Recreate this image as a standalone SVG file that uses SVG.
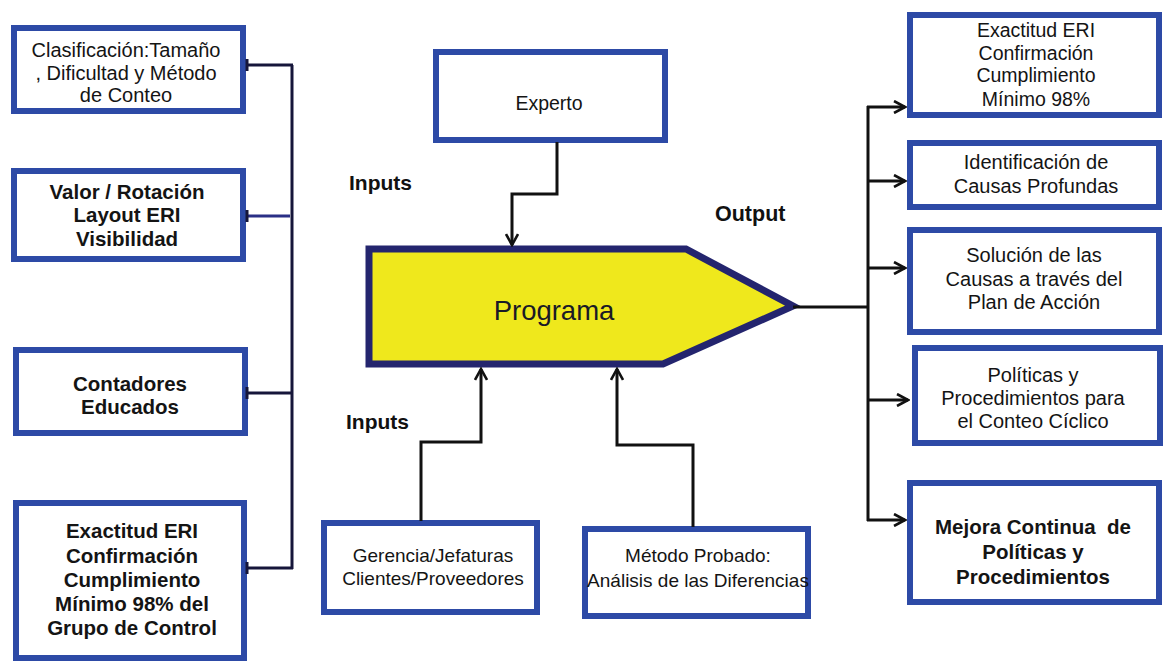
<svg xmlns="http://www.w3.org/2000/svg" width="1163" height="664" viewBox="0 0 1163 664">
  <style>
    .box { fill: #ffffff; stroke: #2d4aa6; stroke-width: 6; }
    .txt { font-family: "Liberation Sans", Arial, sans-serif; font-size: 19.5px; fill: #141414; text-anchor: middle; }
    .bold { font-weight: bold; }
    .lbl { font-family: "Liberation Sans", Arial, sans-serif; font-size: 21px; font-weight: bold; fill: #111; }
    .wire { fill: none; stroke: #111; stroke-width: 3; }
    .brk { fill: none; stroke: #16163a; stroke-width: 3; }
  </style>
  <defs>
    <marker id="arr" viewBox="0 0 14 14" refX="12" refY="7" markerWidth="14" markerHeight="14" markerUnits="userSpaceOnUse" orient="auto">
      <path d="M1,1 L12,7 L1,13" fill="none" stroke="#111" stroke-width="2.6"/>
    </marker>
  </defs>
  <rect width="1163" height="664" fill="#ffffff"/>

  <!-- left column: factors -->
  <g id="clasificacion">
    <rect class="box" x="14" y="28" width="229" height="83"/>
    <text class="txt" style="font-size:20px"><tspan x="126" y="57">Clasificación:Tamaño</tspan><tspan x="126" y="80">, Dificultad y Método</tspan><tspan x="126" y="102">de Conteo</tspan></text>
  </g>
  <g id="valor">
    <rect class="box" x="14" y="171" width="229" height="88"/>
    <text class="txt bold" style="font-size:20.5px"><tspan x="127" y="199">Valor / Rotación</tspan><tspan x="127" y="222">Layout ERI</tspan><tspan x="127" y="246">Visibilidad</tspan></text>
  </g>
  <g id="contadores">
    <rect class="box" x="16" y="350" width="229" height="83"/>
    <text class="txt bold" style="font-size:20.5px"><tspan x="130" y="391">Contadores</tspan><tspan x="130" y="414">Educados</tspan></text>
  </g>
  <g id="exactitud-grupo">
    <rect class="box" x="16" y="503" width="228" height="155"/>
    <text class="txt bold" style="font-size:20.5px"><tspan x="132" y="538">Exactitud ERI</tspan><tspan x="132" y="563">Confirmación</tspan><tspan x="132" y="587">Cumplimiento</tspan><tspan x="132" y="611">Mínimo 98% del</tspan><tspan x="132" y="635">Grupo de Control</tspan></text>
  </g>

  <!-- centre: inputs and programme -->
  <g id="experto">
    <rect class="box" x="436" y="52" width="229" height="88"/>
    <text class="txt" x="549" y="110" style="font-size:19.5px">Experto</text>
  </g>
  <g id="programa">
    <polygon points="369,249 686,249 793,306 663,364 369,364" fill="#efe81c" stroke="#24256e" stroke-width="7" stroke-linejoin="miter"/>
    <text class="txt" x="554" y="320" style="font-size:27.5px;fill:#1a1a26">Programa</text>
  </g>
  <g id="gerencia">
    <rect class="box" x="324" y="523" width="213" height="89"/>
    <text class="txt" style="font-size:19px"><tspan x="433" y="562">Gerencia/Jefaturas</tspan><tspan x="433" y="585">Clientes/Proveedores</tspan></text>
  </g>
  <g id="metodo">
    <rect class="box" x="585" y="529" width="223" height="87"/>
    <text class="txt" style="font-size:19px"><tspan x="698" y="562">Método Probado:</tspan><tspan x="698" y="587">Análisis de las Diferencias</tspan></text>
  </g>

  <!-- right column: outputs -->
  <g id="exactitud-eri">
    <rect class="box" x="910" y="15" width="249" height="100"/>
    <text class="txt"><tspan x="1036" y="37">Exactitud ERI</tspan><tspan x="1036" y="60">Confirmación</tspan><tspan x="1036" y="82">Cumplimiento</tspan><tspan x="1036" y="106">Mínimo 98%</tspan></text>
  </g>
  <g id="identificacion">
    <rect class="box" x="910" y="143" width="249" height="64"/>
    <text class="txt" style="font-size:20px"><tspan x="1036" y="169">Identificación de</tspan><tspan x="1036" y="193">Causas Profundas</tspan></text>
  </g>
  <g id="solucion">
    <rect class="box" x="910" y="230" width="249" height="102"/>
    <text class="txt" style="font-size:20px"><tspan x="1034" y="262">Solución de las</tspan><tspan x="1034" y="286">Causas a través del</tspan><tspan x="1034" y="309">Plan de Acción</tspan></text>
  </g>
  <g id="politicas">
    <rect class="box" x="915" y="348" width="245" height="95"/>
    <text class="txt" style="font-size:20px"><tspan x="1033" y="382">Políticas y</tspan><tspan x="1033" y="405">Procedimientos para</tspan><tspan x="1033" y="428">el Conteo Cíclico</tspan></text>
  </g>
  <g id="mejora">
    <rect class="box" x="910" y="483" width="249" height="119"/>
    <text class="txt bold" style="white-space:pre;font-size:20.5px"><tspan x="1033" y="534">Mejora Continua  de</tspan><tspan x="1033" y="559">Políticas y</tspan><tspan x="1033" y="584">Procedimientos</tspan></text>
  </g>

  <!-- free labels -->
  <g id="labels">
    <text class="lbl" x="349" y="190">Inputs</text>
    <text class="lbl" x="346" y="429">Inputs</text>
    <text class="lbl" x="715" y="221" style="font-size:21.5px">Output</text>
  </g>

  <!-- connectors -->
  <g id="connectors">
    <!-- left bracket joining the factor boxes -->
    <path class="brk" d="M292,65 V569"/>
    <path class="brk" d="M246,65 H293"/>
    <path class="brk" d="M246,216 H290" style="stroke:#2a2f86"/>
    <path class="brk" d="M246,393 H293"/>
    <path class="brk" d="M246,568 H293"/>
    <path class="brk" d="M247,59 V71 M247,210 V222 M247,387 V399 M247,562 V574"/>
    <!-- inputs into the programme -->
    <path class="wire" d="M557,142 V194 H512 V245" marker-end="url(#arr)"/>
    <path class="wire" d="M421,521 V442 H481 V369" marker-end="url(#arr)"/>
    <path class="wire" d="M693,527 V445 H617 V369" marker-end="url(#arr)"/>
    <!-- output fan-out -->
    <path class="wire" d="M793,307 H868"/>
    <path class="wire" d="M868,106 V521"/>
    <path class="wire" d="M867,107 H905" marker-end="url(#arr)"/>
    <path class="wire" d="M867,181 H905" marker-end="url(#arr)"/>
    <path class="wire" d="M867,268 H905" marker-end="url(#arr)"/>
    <path class="wire" d="M867,400 H908" marker-end="url(#arr)"/>
    <path class="wire" d="M867,520 H905" marker-end="url(#arr)"/>
  </g>
</svg>
